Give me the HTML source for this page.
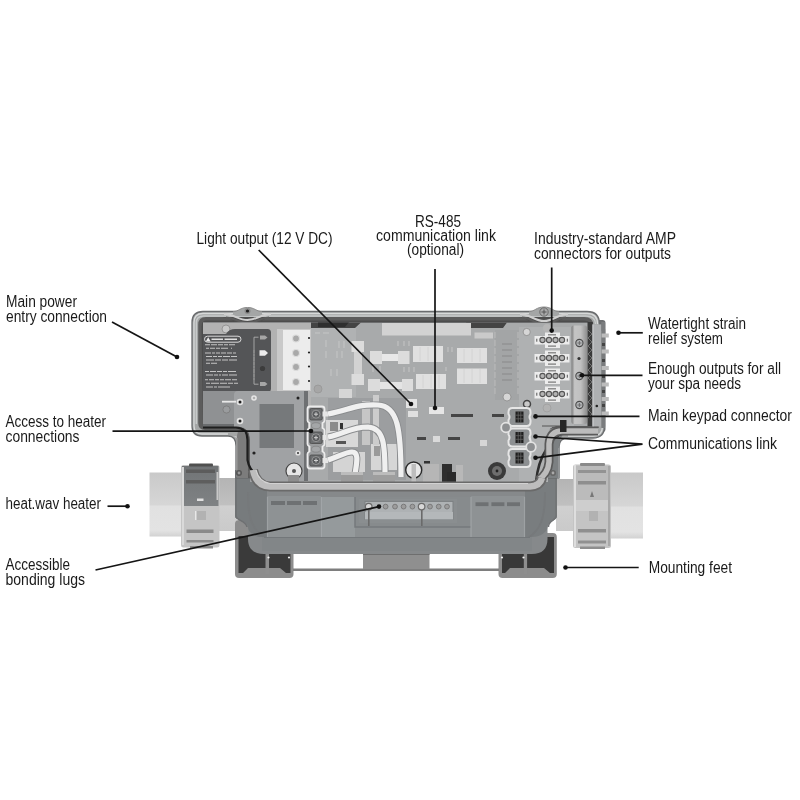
<!DOCTYPE html>
<html><head><meta charset="utf-8">
<style>
html,body{margin:0;padding:0;background:#fff;width:800px;height:800px;overflow:hidden}
svg{display:block}
.t{font-family:"Liberation Sans",sans-serif;font-size:16px;fill:#1a1a1a}
.ln{stroke:#151515;stroke-width:1.7;fill:none}
.dt{fill:#111}
</style></head>
<body>
<svg width="800" height="800" viewBox="0 0 800 800">
<rect width="800" height="800" fill="#fff"/>

<!-- ============ DEVICE ============ -->
<defs>
<linearGradient id="pipeL" x1="0" y1="0" x2="0" y2="1">
<stop offset="0" stop-color="#c9c9c9"/><stop offset="0.5" stop-color="#d6d6d6"/><stop offset="0.53" stop-color="#e1e1e1"/><stop offset="0.9" stop-color="#e3e3e3"/><stop offset="1" stop-color="#d2d2d2"/>
</linearGradient>
<linearGradient id="pipeN" x1="0" y1="0" x2="0" y2="1">
<stop offset="0" stop-color="#b4b4b4"/><stop offset="0.5" stop-color="#c0c0c0"/><stop offset="0.53" stop-color="#d0d0d0"/><stop offset="1" stop-color="#cacaca"/>
</linearGradient>
<linearGradient id="bar" x1="0" y1="0" x2="1" y2="0">
<stop offset="0" stop-color="#7a7a7a"/><stop offset="0.2" stop-color="#c4c4c4"/><stop offset="0.6" stop-color="#c0c0c0"/><stop offset="1" stop-color="#8e8e8e"/>
</linearGradient>
<clipPath id="inner">
<path d="M203 322.5 H592 V426 H556 Q548 426 548 436 V482 H250 V440 Q250 427 238 427 H203 Z"/>
</clipPath>
</defs>
<g id="device" style="filter:blur(0.45px)">
<!-- ===== pipes & nuts ===== -->
<rect x="149.5" y="472.5" width="33" height="64" fill="url(#pipeL)"/>
<rect x="218" y="478" width="19" height="53" fill="url(#pipeN)"/>
<rect x="608" y="472.5" width="35" height="66" fill="url(#pipeL)"/>
<rect x="556" y="479" width="19" height="52" fill="url(#pipeN)"/>
<!-- left nut -->
<linearGradient id="nutTop" x1="0" y1="0" x2="0" y2="1"><stop offset="0" stop-color="#717476"/><stop offset="1" stop-color="#7f8284"/></linearGradient>
<rect x="181" y="465" width="38.5" height="82.5" rx="2.5" fill="#c5c5c5"/>
<rect x="182" y="466" width="36.5" height="40" fill="url(#nutTop)"/>
<rect x="189" y="463.5" width="24" height="3" rx="1" fill="#505050"/>
<rect x="186" y="469.5" width="29" height="3.5" fill="#5c5c5c"/>
<rect x="186" y="480" width="29" height="3.5" fill="#5e5e5e"/>
<rect x="197" y="498.5" width="6.5" height="2.5" fill="#e0e0e0"/>
<rect x="182" y="467" width="2" height="78" fill="#dadada"/>
<rect x="216.5" y="472" width="1.8" height="28" fill="#c8c8c8"/>
<rect x="196" y="511" width="10" height="9" fill="#b2b2b2"/>
<rect x="195" y="511" width="1.5" height="9" fill="#e8e8e8"/>
<rect x="186.5" y="529.5" width="27" height="3.5" fill="#8a8a8a"/>
<rect x="186.5" y="540" width="27" height="2.5" fill="#8c8c8c"/>
<rect x="190" y="546" width="23" height="2.5" fill="#8a8a8a"/>
<!-- right nut -->
<rect x="573" y="464.5" width="38" height="83.5" rx="2.5" fill="#c4c4c4"/>
<rect x="574" y="466" width="36" height="34" fill="#bbbbbb"/>
<rect x="580" y="463" width="25" height="3" rx="1" fill="#8a8a8a"/>
<rect x="578" y="470" width="28" height="3" fill="#939393"/>
<rect x="578" y="481" width="28" height="3.5" fill="#8e8e8e"/>
<rect x="575" y="500" width="35" height="11" fill="#cecece"/>
<rect x="589" y="511" width="9" height="10" fill="#b2b2b2"/>
<path d="M592 491 L594 497 L590 497 Z" fill="#777"/>
<rect x="578" y="529" width="28" height="3.5" fill="#8f8f8f"/>
<rect x="578" y="540.5" width="28" height="3" fill="#909090"/>
<rect x="580" y="546.5" width="25" height="2.5" fill="#8e8e8e"/>
<rect x="574" y="465" width="2" height="82" fill="#dedede"/>
<rect x="608" y="466" width="2" height="80" fill="#a8a8a8"/>

<!-- ===== heater body ===== -->
<!-- feet -->
<rect x="235" y="520" width="58.5" height="58" rx="4" fill="#8c8c8c"/>
<path d="M238.5 536 H290.5 V573 H286 L280 568 H248 L243 573 H238.5 Z" fill="#3a3a3a"/>
<rect x="265.5" y="550" width="3.5" height="24" fill="#8e8e8e"/>
<rect x="498.5" y="533" width="58.3" height="45" rx="4" fill="#8c8c8c"/>
<path d="M502 537 H554 V573 H550 L544 568 H510 L505 573 H502 Z" fill="#383838"/>
<rect x="523.8" y="550" width="3.3" height="24" fill="#8e8e8e"/>
<g fill="#f0f0f0"><circle cx="268.5" cy="557.5" r="1.1"/><circle cx="289" cy="557.5" r="1.1"/><circle cx="502" cy="557.5" r="1.1"/><circle cx="523.5" cy="557.5" r="1.1"/></g>
<rect x="293" y="568.5" width="206" height="2.5" fill="#7e7e7e"/>
<rect x="363" y="553" width="66.5" height="16" fill="#8f8f8f"/>
<rect x="363" y="553" width="66.5" height="2" fill="#6e6e6e"/>
<!-- body -->
<path d="M235 470 H557 V516 C557 521 547.5 521 547.5 528 V539 C547.5 549 542 554 532 554 H264 C254 554 248 549 248 539 V528 C248 521 235 521 235 516 Z" fill="#86898b"/>
<path d="M235 470 H267 V537 H262 C254 537 248 532 248 527 C248 521 235 521 235 516 Z" fill="#777b7d"/>
<path d="M557 470 H525 V537 H532 C540 537 547.5 532 547.5 527 C547.5 521 557 521 557 516 Z" fill="#797d7f"/>
<path d="M236 470 V516 C236 520 246 521 247 527" fill="none" stroke="#6e7072" stroke-width="1.5"/>
<path d="M556 470 V516 C556 520 548 521 548.5 527" fill="none" stroke="#727476" stroke-width="1.5"/>
<path d="M248 492 C248 520 252 530 266 538 M545 492 C545 520 540 530 528 538" fill="none" stroke="#76797b" stroke-width="2"/>
<rect x="267" y="496" width="54" height="41" fill="#8e9294"/>
<rect x="471" y="496" width="54" height="41" fill="#8e9294"/>
<rect x="321" y="497" width="150" height="40" fill="#8b8f91"/>
<rect x="321" y="497" width="34" height="40" fill="#959a9c"/>
<rect x="355" y="497" width="116" height="30" fill="#878b8d"/>
<path d="M355 497 V527 H471" fill="none" stroke="#767a7c" stroke-width="1.5"/>
<rect x="262" y="537" width="270" height="14" fill="#828688"/>
<path d="M264 537.5 H530" stroke="#73777a" stroke-width="1.2"/>
<path d="M321.4 497 V537 M471 497 V537" stroke="#a3a7a9" stroke-width="1"/>
<path d="M267.5 497 V537 M524.5 497 V537" stroke="#9da1a3" stroke-width="1.2"/>
<g fill="#6e7173">
<rect x="271" y="501" width="14" height="4"/><rect x="287" y="501" width="14" height="4"/><rect x="303" y="501" width="14" height="4"/>
<rect x="491.4" y="502.3" width="13" height="3.8"/><rect x="507" y="502.3" width="13" height="3.8"/><rect x="475.5" y="502.3" width="13" height="3.8"/>
</g>
<!-- bonding lug bar -->
<rect x="359" y="499" width="98" height="24" fill="#8a8e90"/>
<rect x="365" y="501.4" width="88" height="18" fill="#aeb2b4" stroke="#7c8082" stroke-width="1"/>
<rect x="365" y="512" width="88" height="7.4" fill="#b4b8ba"/>
<g fill="#9c9c9c" stroke="#6e6e6e" stroke-width="0.8">
<circle cx="385.6" cy="506.6" r="2.4"/><circle cx="395" cy="506.6" r="2.4"/><circle cx="403.6" cy="506.6" r="2.4"/><circle cx="412.4" cy="506.6" r="2.4"/><circle cx="430" cy="506.6" r="2.4"/><circle cx="438.7" cy="506.6" r="2.4"/><circle cx="447" cy="506.6" r="2.4"/>
</g>
<g fill="#d8d8d8" stroke="#6a6a6a" stroke-width="1.2"><circle cx="368.7" cy="506.6" r="3.3"/><circle cx="421.6" cy="506.6" r="3.3"/></g>
<rect x="368" y="510" width="1.6" height="16" fill="#6a6a6a"/><rect x="421" y="510" width="1.6" height="16" fill="#6a6a6a"/>
<!-- ===== enclosure shell ===== -->
<rect x="597" y="320" width="8.5" height="112" rx="3" fill="#6c6e70"/>
<path d="M203 311.5 L587 311.5 Q599.5 311.5 599.5 324 L599.5 330 L604.5 330 L604.5 426 Q604.5 438 593 438 L568 438 Q559 438 559 447 L559 478 L236 478 L236 446 Q236 436 228 436 L202 436 Q192 436 192 426 L192 322.5 Q192 311.5 203 311.5 Z" fill="#a4a6a6" stroke="#6a6c6e" stroke-width="1.3"/>
<path d="M194 426 V322.5 Q194 313.5 203 313.5 H587 Q597.5 313.5 597.5 324 M602.5 400 V426 Q602.5 436 593 436 H568 M194 426 Q194 434 202 434 H228" fill="none" stroke="#d8dada" stroke-width="1.3"/>
<path d="M196.3 424 V323 Q196.3 316 203.5 316 H586 Q595.5 316 595.5 324" fill="none" stroke="#c8cbcb" stroke-width="1.4"/>
<!-- notch walls -->
<path d="M236.5 440 Q236.5 436 232 436 L236.5 436 Z" fill="#c6c6c6"/>
<path d="M237 436 V478 H248 V440 Q248 431 238 431 Z" fill="#7c7c7c"/>
<path d="M236.8 438 V470" stroke="#9a9a9a" stroke-width="1.5"/>
<path d="M559.5 446 V478 H546 V440 Q546 432 556 432 H566 Q559.5 436 559.5 446 Z" fill="#7c8082"/>
<path d="M558.8 448 V478" stroke="#96999b" stroke-width="1.2"/>
<!-- dark groove -->
<path d="M206 317 L584 317 Q593.5 317 593.5 326 L598.8 428 L556 428 Q546 428 546 438 L546 478 L248 478 L248 440 Q248 430 237 430 L205 430 Q198.2 430 198.2 423 L198.2 325 Q198.2 317 206 317 Z" fill="#5c5c5c"/>
<path d="M206 320.5 L584 320.5 Q591 320.5 592 327 L596 426 L203 426 L201.5 327 Q201.5 320.5 206 320.5 Z" fill="#4c4c4c"/>
<!-- screw bosses -->
<path d="M222 317 C232 317 236 326 247.5 326 C259 326 263 317 273 317 Z" fill="#4e4e4e"/>
<path d="M233 311.5 C239 311.5 240 307.5 247.5 307.5 C255 307.5 256 311.5 262 311.5 V316 H233 Z" fill="#a4a6a6"/>
<path d="M233 311.5 C239 311.5 240 307.5 247.5 307.5 C255 307.5 256 311.5 262 311.5" fill="none" stroke="#8a8a8a" stroke-width="1"/>
<path d="M224 314 C234 314 238 320 247.5 320 C257 320 261 314 271 314" fill="none" stroke="#d0d0d0" stroke-width="2"/>
<path d="M226 317.5 C235 317.5 238 323 247.5 323 C257 323 260 317.5 269 317.5" fill="none" stroke="#5c5c5c" stroke-width="2"/>
<circle cx="247.5" cy="311" r="3" fill="#8a8a8a"/><circle cx="247.5" cy="311" r="1.6" fill="#1e1e1e"/>
<path d="M518 317 C528 317 532 327 544 327 C556 327 560 317 570 317 Z" fill="#4e4e4e"/>
<path d="M529 311.5 C535 311.5 536 307 544 307 C552 307 553 311.5 559 311.5 V316 H529 Z" fill="#a4a6a6"/>
<path d="M529 311.5 C535 311.5 536 307 544 307 C552 307 553 311.5 559 311.5" fill="none" stroke="#8a8a8a" stroke-width="1"/>
<path d="M520 314 C530 314 534 321 544 321 C554 321 558 314 568 314" fill="none" stroke="#d0d0d0" stroke-width="2"/>
<path d="M522 317.5 C531 317.5 534 324 544 324 C554 324 557 317.5 566 317.5" fill="none" stroke="#5c5c5c" stroke-width="2"/>
<circle cx="544" cy="312" r="4.2" fill="#a9a9a9" stroke="#6a6a6a" stroke-width="1"/>
<path d="M541.5 312 H546.5 M544 309.5 V314.5" stroke="#555" stroke-width="1"/>

<!-- ===== interior (clipped) ===== -->
<g clip-path="url(#inner)">
<rect x="200" y="320" width="400" height="165" fill="#a8aaab"/>
<!-- left compartment plate -->
<rect x="203" y="322.5" width="108" height="105" fill="#b2b2b2"/>
<circle cx="226" cy="329" r="4" fill="#c8c8c8" stroke="#8a8a8a" stroke-width="0.8"/>
<!-- warning label -->
<path d="M203 334 L226 334 Q229 329 235 329 L267.5 329 Q271 329 271 332.5 L271 388.5 Q271 392 267.5 392 L203 392 Z" fill="#545557"/>
<rect x="204.5" y="336.2" width="36.5" height="6" rx="3" fill="none" stroke="#d8d8d8" stroke-width="1"/>
<path d="M205.8 341.6 L208.2 337.2 L210.6 341.6 Z" fill="#eee"/>
<path d="M211.5 339.2 H223 M224.5 339.2 H237" stroke="#e0e0e0" stroke-width="1.6"/>
<g stroke="#c4c4c4" stroke-width="1.05" fill="none">
<path d="M205 344.8 H239" stroke-dasharray="5 1 6 1 5 1 4 1 6"/>
<path d="M206 348.2 H233" stroke-dasharray="3 1 5 1 4 1 7"/>
<path d="M205 353 H238" stroke-dasharray="6 1 3 1 4 1 5 1 5 1 3"/>
<path d="M206 356.5 H238" stroke-dasharray="6 1 4 1 4 1 7 1 6"/>
<path d="M206 360 H239" stroke-dasharray="8 1 6 1 6 1 8"/>
<path d="M206 363.3 H218" stroke-dasharray="4 1 6"/>
<path d="M205 371.4 H239" stroke-dasharray="4 1 6 1 5 1 4 1 8"/>
<path d="M206 375 H240" stroke-dasharray="7 1 4 1 2 1 6 1 8"/>
<path d="M205 379.8 H239" stroke-dasharray="3 1 5 1 4 1 4 1 6 1 5"/>
<path d="M206 383.2 H239" stroke-dasharray="4 1 8 1 7 1 5 1 4"/>
<path d="M206 386.9 H232" stroke-dasharray="7 1 3 1 12"/>
</g>
<path d="M258.5 337.2 H254 V384.2 H258.5" fill="none" stroke="#b8b8b8" stroke-width="0.8"/>
<path d="M254 350 V380" stroke="#8a8a8a" stroke-width="1.6" stroke-dasharray="3 1 2 1 4 1"/>
<path d="M260 335.5 H265 L267.5 337.5 L265 339.5 H260 Z" fill="#a6a6a6"/>
<path d="M259.5 350.3 H265 L268 353 L265 355.7 H259.5 Z" fill="#ececec"/>
<circle cx="262.5" cy="368.5" r="2.6" fill="#3c3c3c"/>
<path d="M260 382 H265 L267.5 384 L265 386 H260 Z" fill="#a6a6a6"/>
<!-- left lower plate -->
<rect x="203" y="391" width="45" height="37" fill="#8f9193"/>
<rect x="203" y="424" width="45" height="4" fill="#6a6c6e"/>
<circle cx="226.5" cy="409.5" r="3.6" fill="#9a9c9e" stroke="#7a7a7a" stroke-width="0.8"/>
<!-- terminal block -->
<rect x="277" y="329" width="34" height="62" fill="#c9c9c9"/>
<rect x="283" y="330" width="27" height="60" fill="#ececec"/>
<g fill="#a9a9a9" stroke="#dcdcdc" stroke-width="1.2">
<circle cx="296" cy="338.5" r="3.5"/><circle cx="296" cy="353" r="3.5"/><circle cx="296" cy="367" r="3.5"/><circle cx="296" cy="382" r="3.5"/>
</g>
<g fill="#222"><circle cx="309" cy="338" r="1.1"/><circle cx="309" cy="352.5" r="1.1"/><circle cx="309" cy="366.5" r="1.1"/><circle cx="309" cy="381" r="1.1"/></g>

<!-- PCB -->
<rect x="311" y="327" width="285" height="160" fill="#a8aaab"/>
<rect x="311" y="327" width="45" height="70" fill="#b0b2b3"/>
<rect x="519" y="327" width="55" height="160" fill="#afb1b2"/>
<rect x="495" y="330" width="24" height="70" fill="#a3a5a6"/>
<path d="M495 332 V395 M518 332 V395" stroke="#c2c2c2" stroke-width="0.8" stroke-dasharray="6 2"/>
<g stroke="#8a8a8a" stroke-width="1.2"><path d="M502 344 H512 M502 350 H512 M502 356 H512 M502 362 H512 M502 368 H512 M502 374 H512 M502 380 H512"/></g>
<!-- top dark recess -->
<path d="M311 320 H596 V322.5 H507 L503 328 H470 L466 322.5 H361 L355 328 H311 Z" fill="#444"/>
<path d="M318 321 H350 L345 327 H318 Z" fill="#2f2f2f"/>
<!-- top white bar -->
<rect x="382" y="323" width="89" height="12.5" fill="#d2d2d2"/>
<rect x="474.5" y="332.5" width="18.5" height="6" fill="#cacaca"/>
<g stroke="#c8c8c8" stroke-width="0.9">
<path d="M315 333 H320 M323 333 H329 M326 340 V347 M326 351 V358 M337 351 V358 M342 351 V358 M331 369 V376 M337 369 V376 M339 341 V348 M344 341 V348 M398 341 V346 M404 341 V346 M409 341 V346 M373 366 V372 M380 366 V372 M404 367 V372 M409 367 V372 M414 367 V372 M448 347 V352 M452 347 V352 M446 367 V371"/>
</g>
<!-- vertical fuse -->
<rect x="351.5" y="341" width="12.5" height="11" fill="#dcdcdc"/>
<rect x="354" y="352" width="8" height="22" fill="#d2d2d2"/>
<rect x="351.5" y="374" width="12.5" height="11" fill="#dcdcdc"/>
<!-- horizontal fuse 1 -->
<rect x="370" y="351" width="12" height="13" fill="#dcdcdc"/>
<rect x="382" y="354" width="16" height="7" fill="#e8e8e8"/>
<rect x="398" y="351" width="11.5" height="13" fill="#dcdcdc"/>
<!-- horizontal fuse 2 -->
<rect x="368" y="379" width="12" height="12" fill="#dcdcdc"/>
<rect x="380" y="382" width="22" height="7" fill="#e4e4e4"/>
<rect x="402" y="379" width="11" height="12" fill="#dcdcdc"/>
<!-- relays -->
<g fill="#e0e0e0">
<rect x="413" y="346" width="30" height="16"/><rect x="416" y="374" width="30" height="15"/>
<rect x="457" y="348" width="30" height="15"/><rect x="457" y="368.5" width="30" height="15.5"/>
</g>
<g stroke="#d0d0d0" stroke-width="0.8">
<path d="M420 347 V361 M428 347 V361 M436 347 V361 M423 375 V388 M431 375 V388 M439 375 V388 M464 349 V362 M472 349 V362 M480 349 V362 M464 369 V383 M472 369 V383 M480 369 V383"/>
</g>
<rect x="339" y="389" width="13" height="16" fill="#d6d6d6"/>
<circle cx="318" cy="389" r="4" fill="#a6a6a6" stroke="#979797" stroke-width="0.8"/>
<rect x="406" y="399" width="11" height="9" fill="#e4e4e4"/>
<rect x="408" y="411" width="10" height="6" fill="#e0e0e0"/>
<rect x="429" y="407" width="15" height="7" fill="#e6e6e6"/>
<g fill="#454545"><rect x="451" y="414" width="22" height="3"/><rect x="492" y="414" width="12" height="3"/><rect x="448" y="437" width="12" height="3"/><rect x="417" y="437" width="9" height="3"/><rect x="393" y="437" width="8" height="3"/></g>
<rect x="433" y="436" width="7" height="6" fill="#dadada"/>
<rect x="480" y="440" width="7" height="6" fill="#d6d6d6"/>
<g fill="#d6d6d6" stroke="#8a8a8a" stroke-width="0.8">
<circle cx="526.7" cy="332" r="3.6"/><circle cx="507" cy="397" r="4"/>
</g>
<circle cx="527" cy="404" r="3.5" fill="#c8c8c8" stroke="#444" stroke-width="1.5"/>
<circle cx="547" cy="328" r="4" fill="#b6b6b6"/>
<circle cx="547" cy="408" r="4" fill="#b2b2b2" stroke="#999" stroke-width="0.6"/>
<!-- AMP connectors -->
<g id="amp">
<rect x="534.5" y="336" width="35" height="8.5" fill="#ececec"/>
<rect x="545" y="332.5" width="15" height="15.5" fill="#ececec"/>
<g fill="#b4b4b4" stroke="#555" stroke-width="1.1"><circle cx="542.5" cy="340" r="2.6"/><circle cx="549" cy="340" r="2.6"/><circle cx="555.5" cy="340" r="2.6"/><circle cx="562" cy="340" r="2.6"/></g>
<rect x="536.3" y="338.7" width="1" height="3" fill="#555"/><rect x="566.8" y="338.7" width="1" height="3" fill="#555"/>
<rect x="548" y="334.2" width="8" height="1.2" fill="#777"/><rect x="548" y="345.5" width="8" height="1.2" fill="#777"/>
</g>
<use href="#amp" y="18"/><use href="#amp" y="36"/><use href="#amp" y="54"/>
<!-- keypad connectors -->
<g id="kp">
<path d="M512.5 408 H526.5 Q530.5 408 530.5 412 V414 Q528.5 417 530.5 420 V422 Q530.5 426 526.5 426 H512.5 Q508.5 426 508.5 422 V420 Q510.5 417 508.5 414 V412 Q508.5 408 512.5 408 Z" fill="#8c8f91" stroke="#e6e6e6" stroke-width="2"/>
<rect x="515.5" y="411.5" width="8" height="11" fill="#1e1e1e"/>
<path d="M518.2 411.5 V422.5 M520.8 411.5 V422.5 M515.5 415.2 H523.5 M515.5 418.8 H523.5" stroke="#6a6a6a" stroke-width="0.7"/>
</g>
<use href="#kp" y="20.5"/><use href="#kp" y="41"/>
<circle cx="506" cy="427.5" r="4.8" fill="#8e9092" stroke="#e2e2e2" stroke-width="1.8"/>
<circle cx="531" cy="447" r="4.8" fill="#8e9092" stroke="#e2e2e2" stroke-width="1.8"/>
<!-- transformer plate -->
<path d="M234 395 Q234 391 238 391 L304 391 L304 485 L234 485 Z" fill="#a0a2a4"/><rect x="304" y="391" width="4" height="90" fill="#6e7072"/>
<rect x="259.5" y="404" width="34.5" height="44" fill="#76797b"/>
<circle cx="254" cy="398" r="2.8" fill="#e6e6e6"/><circle cx="254" cy="398" r="1.3" fill="#b0b0b0"/>
<circle cx="298" cy="398" r="1.5" fill="#222"/>
<rect x="222" y="400.8" width="14" height="1.8" fill="#e8e8e8"/><circle cx="240" cy="402" r="3.3" fill="#e2e2e2"/><circle cx="240" cy="402" r="1.5" fill="#1e1e1e"/><circle cx="240" cy="421" r="3.3" fill="#e2e2e2"/><circle cx="240" cy="421" r="1.5" fill="#1e1e1e"/>
<circle cx="254" cy="453" r="1.6" fill="#222"/>
<circle cx="298" cy="453" r="2.6" fill="#e2e2e2"/><circle cx="298" cy="453" r="1" fill="#333"/>
</g>
<!-- left groove line over transformer -->
<path d="M203 427.5 H236 Q247.5 428 247.5 440 L247.5 460 Q249 470 258 476" fill="none" stroke="#1e1e1e" stroke-width="2.2"/>
<!-- right keypad cable & rim -->
<path d="M536 482 Q538 462 546 450 Q552 436 566 432" fill="none" stroke="#2e2e2e" stroke-width="2.5"/>
<path d="M598 431 H562 Q550 431 549 444 L549 462 Q548 474 538 480" fill="none" stroke="#5a5a5a" stroke-width="9"/>
<path d="M598 431 H562 Q550 431 549 444 L549 462 Q548 474 538 480" fill="none" stroke="#bcbcbc" stroke-width="5.5"/>
<path d="M542 426 H560" stroke="#555" stroke-width="1"/>
<rect x="560" y="420" width="6.5" height="12" fill="#262626"/>
<!-- strain relief -->
<rect x="571.5" y="325.5" width="15.5" height="98.5" rx="2" fill="url(#bar)"/>
<g fill="#b4b6b8" stroke="#4a4a4a" stroke-width="1.1"><circle cx="579.4" cy="343" r="3.6"/><circle cx="579.4" cy="376" r="3.6"/><circle cx="579.4" cy="405" r="3.6"/></g><path d="M577.4 343 H581.4 M579.4 341 V345 M577.4 376 H581.4 M579.4 374 V378 M577.4 405 H581.4 M579.4 403 V407" stroke="#666" stroke-width="0.9"/>
<circle cx="579" cy="358.5" r="1.6" fill="#333"/>
<rect x="587.5" y="322" width="5.2" height="104" fill="#3a3a3a"/>
<path d="M588 330 L592 334 L588 338 L592 342 L588 346 L592 350 L588 354 L592 358 L588 362 L592 366 L588 370 L592 374 L588 378 L592 382 L588 386 L592 390 L588 394 L592 398 L588 402 L592 406 L588 410 L592 414 L588 418" fill="none" stroke="#7a7a7a" stroke-width="0.9"/>
<rect x="592.5" y="324.4" width="9" height="102" fill="#aeb0b2"/><rect x="592.5" y="324.4" width="1" height="102" fill="#d0d2d4"/>
<rect x="601.3" y="322" width="3.7" height="106" fill="#7a7c7e"/>
<g fill="#bcbcbc"><rect x="601.6" y="333.5" width="7.2" height="4"/><rect x="601.6" y="349.5" width="7.2" height="4"/><rect x="601.6" y="366" width="7.2" height="4"/><rect x="601.6" y="382.5" width="7.2" height="4"/><rect x="601.6" y="397" width="7.2" height="4"/><rect x="601.6" y="411.5" width="7.2" height="4"/></g>
<g fill="#444"><rect x="602" y="343" width="3" height="3"/><rect x="602" y="359" width="3" height="3"/><rect x="602" y="375" width="3" height="3"/><rect x="602" y="390" width="3" height="3"/><rect x="602" y="404" width="3" height="3"/></g>
<circle cx="596.8" cy="406" r="1.3" fill="#222"/>

<rect x="328" y="398" width="78" height="82" fill="#9c9ea0"/>
<!-- heater terminals -->
<path d="M310 406.5 H322 Q324.5 406.5 324.5 409 V420.5 Q324.5 422 322.5 423 V428 Q324.5 429 324.5 430.5 V444 Q324.5 445.5 322.5 446.5 V451.5 Q324.5 452.5 324.5 454 V466 Q324.5 468.5 322 468.5 H310 Q307.5 468.5 307.5 466 V454 Q307.5 452.5 309.5 451.5 V446.5 Q307.5 445.5 307.5 444 V430.5 Q307.5 429 309.5 428 V423 Q307.5 422 307.5 420.5 V409 Q307.5 406.5 310 406.5 Z" fill="#9a9c9e" stroke="#ececec" stroke-width="1.8"/>
<g fill="#6c6e70" stroke="#4a4a4a" stroke-width="0.8"><rect x="309.8" y="408.5" width="12.4" height="11.5" rx="1.5"/><rect x="309.8" y="432" width="12.4" height="11.5" rx="1.5"/><rect x="309.8" y="455" width="12.4" height="11" rx="1.5"/></g>
<g fill="#5a5c5e" stroke="#9a9a9a" stroke-width="0.9"><circle cx="316" cy="414.2" r="4"/><circle cx="316" cy="437.7" r="4"/><circle cx="316" cy="460.5" r="4"/></g>
<g stroke="#d0d0d0" stroke-width="1"><path d="M314 414.2 H318 M316 412.2 V416.2 M314 437.7 H318 M316 435.7 V439.7 M314 460.5 H318 M316 458.5 V462.5"/></g>
<g fill="#a4a6a8" stroke="#7a7a7a" stroke-width="0.6"><ellipse cx="316" cy="425.7" rx="4.5" ry="3"/><ellipse cx="316" cy="449.2" rx="4.5" ry="3"/></g>
<g fill="#e6e6e6"><rect x="322.5" y="411.5" width="5.5" height="5"/><rect x="322.5" y="435" width="5.5" height="5"/><rect x="322.5" y="458" width="5.5" height="5"/></g>
<rect x="326" y="420" width="32" height="27" fill="#d8d8d8"/>
<rect x="330" y="422" width="8" height="9" fill="#8a8a8a"/>
<rect x="340" y="423" width="3" height="6" fill="#333"/>
<rect x="336" y="441" width="10" height="3" fill="#555"/>
<rect x="333" y="452" width="32" height="20" fill="#d4d4d4"/>
<rect x="371" y="444" width="26" height="26" fill="#d6d6d6"/>
<rect x="374" y="446" width="6" height="10" fill="#9a9a9a"/>
<rect x="362" y="401" width="8" height="44" fill="#c6c6c6"/>
<rect x="373" y="395" width="6" height="50" fill="#cccccc"/>
<g fill="none" stroke="#8a8c8e" stroke-width="7">
<path d="M328 414 C350 410 355 404 378 405 C398 406 401 430 401 477"/>
<path d="M328 437 C345 434 350 427 368 427 C384 428 385 445 385 474"/>
<path d="M328 460 C340 456 346 452 352 452 C359 452 357 462 355 474"/>
</g>
<g fill="none" stroke="#f0f0f0" stroke-width="5.2">
<path d="M328 414 C350 410 355 404 378 405 C398 406 401 430 401 477"/>
<path d="M328 437 C345 434 350 427 368 427 C384 428 385 445 385 474"/>
<path d="M328 460 C340 456 346 452 352 452 C359 452 357 462 355 474"/>
</g>
<rect x="341" y="474" width="22" height="10" fill="#9a9a9a"/>
<rect x="373" y="474" width="22" height="10" fill="#9e9e9e"/>
<rect x="341" y="472" width="22" height="3" fill="#bcbcbc"/>
<rect x="373" y="472" width="22" height="3" fill="#bcbcbc"/>
<circle cx="413.7" cy="470" r="8" fill="#e8e8e8" stroke="#2a2a2a" stroke-width="1.4"/>
<rect x="411.5" y="464" width="4.5" height="18" fill="#bdbdbd"/>
<rect x="423" y="464" width="16" height="18" fill="#b6b6b6"/>
<rect x="424" y="461" width="6" height="2.5" fill="#333"/>
<rect x="442" y="464" width="10" height="18" fill="#2e2e2e"/>
<rect x="447" y="472" width="15" height="10" fill="#2a2a2a"/>
<rect x="456" y="465" width="7" height="17" fill="#b8b8b8"/>
<circle cx="294" cy="471" r="8" fill="#e6e6e6" stroke="#444" stroke-width="1.2"/>
<circle cx="294" cy="471" r="2" fill="#555"/>
<rect x="288" y="475" width="11" height="9" fill="#8e8e8e"/>
<circle cx="497" cy="471" r="9" fill="#3a3a3a"/><circle cx="497" cy="471" r="5" fill="#6e6e6e"/><circle cx="497" cy="471" r="1.4" fill="#222"/>

<!-- lower rim tube -->
<path d="M253 470 Q256 486 270 486.5 L530 486.5 Q540 486 542 478" fill="none" stroke="#6a6a6a" stroke-width="10"/>
<path d="M253 470 Q256 486 270 486.5 L530 486.5 Q540 486 542 478" fill="none" stroke="#bdbdbd" stroke-width="6.5"/>
<path d="M256 470 Q259 482 270 483.5 L528 483.5" fill="none" stroke="#d2d2d2" stroke-width="1.2"/>
<circle cx="239" cy="473" r="3" fill="#555"/><circle cx="239" cy="473" r="1.4" fill="#999"/>
<circle cx="553" cy="473" r="3" fill="#666"/><circle cx="553" cy="473" r="1.4" fill="#aaa"/>
</g>
<!-- ============ CALLOUTS ============ -->
<g style="opacity:0.999">
<text class="t" x="6" y="306.90" textLength="71" lengthAdjust="spacingAndGlyphs">Main power</text>
<text class="t" x="6" y="321.90" textLength="101" lengthAdjust="spacingAndGlyphs">entry connection</text>
<text class="t" x="196.5" y="243.90" textLength="136" lengthAdjust="spacingAndGlyphs">Light output (12 V DC)</text>
<text class="t" x="415" y="227.2" textLength="46" lengthAdjust="spacingAndGlyphs">RS-485</text>
<text class="t" x="376" y="240.6" textLength="120" lengthAdjust="spacingAndGlyphs">communication link</text>
<text class="t" x="407" y="255.40" textLength="57" lengthAdjust="spacingAndGlyphs">(optional)</text>
<text class="t" x="534" y="243.90" textLength="142" lengthAdjust="spacingAndGlyphs">Industry-standard AMP</text>
<text class="t" x="534" y="258.90" textLength="137" lengthAdjust="spacingAndGlyphs">connectors for outputs</text>
<text class="t" x="648" y="329.40" textLength="98" lengthAdjust="spacingAndGlyphs">Watertight strain</text>
<text class="t" x="648" y="344.40" textLength="75" lengthAdjust="spacingAndGlyphs">relief system</text>
<text class="t" x="648" y="374.40" textLength="133" lengthAdjust="spacingAndGlyphs">Enough outputs for all</text>
<text class="t" x="648" y="388.90" textLength="93" lengthAdjust="spacingAndGlyphs">your spa needs</text>
<text class="t" x="648" y="421.20" textLength="144" lengthAdjust="spacingAndGlyphs">Main keypad connector</text>
<text class="t" x="648" y="449.40" textLength="129" lengthAdjust="spacingAndGlyphs">Communications link</text>
<text class="t" x="5.5" y="427.40" textLength="100.5" lengthAdjust="spacingAndGlyphs">Access to heater</text>
<text class="t" x="5.5" y="442.40" textLength="74" lengthAdjust="spacingAndGlyphs">connections</text>
<text class="t" x="5.5" y="509.20" textLength="95.5" lengthAdjust="spacingAndGlyphs">heat.wav heater</text>
<text class="t" x="5.5" y="569.90" textLength="64.5" lengthAdjust="spacingAndGlyphs">Accessible</text>
<text class="t" x="5.5" y="584.90" textLength="79.5" lengthAdjust="spacingAndGlyphs">bonding lugs</text>
<text class="t" x="648.7" y="572.90" textLength="83.3" lengthAdjust="spacingAndGlyphs">Mounting feet</text>

<path class="ln" d="M112 322 L177 357"/><circle class="dt" cx="177" cy="357" r="2.3"/>
<path class="ln" d="M258.7 250 L411 404"/><circle class="dt" cx="411" cy="404" r="2.3"/>
<path class="ln" d="M435 269 L435 408"/><circle class="dt" cx="435" cy="408" r="2.3"/>
<path class="ln" d="M551.7 267.5 L551.7 330.6"/><circle class="dt" cx="551.7" cy="330.6" r="2.3"/>
<path class="ln" d="M618.5 332.8 L642.8 332.8"/><circle class="dt" cx="618.5" cy="332.8" r="2.3"/>
<path class="ln" d="M582 375.3 L642.5 375.3"/><circle class="dt" cx="582" cy="375.3" r="2.3"/>
<path class="ln" d="M535.5 416.4 L639.5 416.4"/><circle class="dt" cx="535.5" cy="416.4" r="2.3"/>
<path class="ln" d="M535.5 436.5 L642.5 444.2 L535.5 457.8"/><circle class="dt" cx="535.5" cy="436.5" r="2.3"/><circle class="dt" cx="535.5" cy="457.8" r="2.3"/>
<path class="ln" d="M112.5 431.2 L311 431"/><circle class="dt" cx="311" cy="431" r="2.3"/>
<path class="ln" d="M107.5 506.2 L127.5 506.2"/><circle class="dt" cx="127.5" cy="506.2" r="2.3"/>
<path class="ln" d="M95.5 570 L379 506.6"/><circle class="dt" cx="379" cy="506.6" r="2.3"/>
<path class="ln" d="M565.5 567.5 L638.7 567.5"/><circle class="dt" cx="565.5" cy="567.5" r="2.3"/>
</g>
</svg>
</body></html>
